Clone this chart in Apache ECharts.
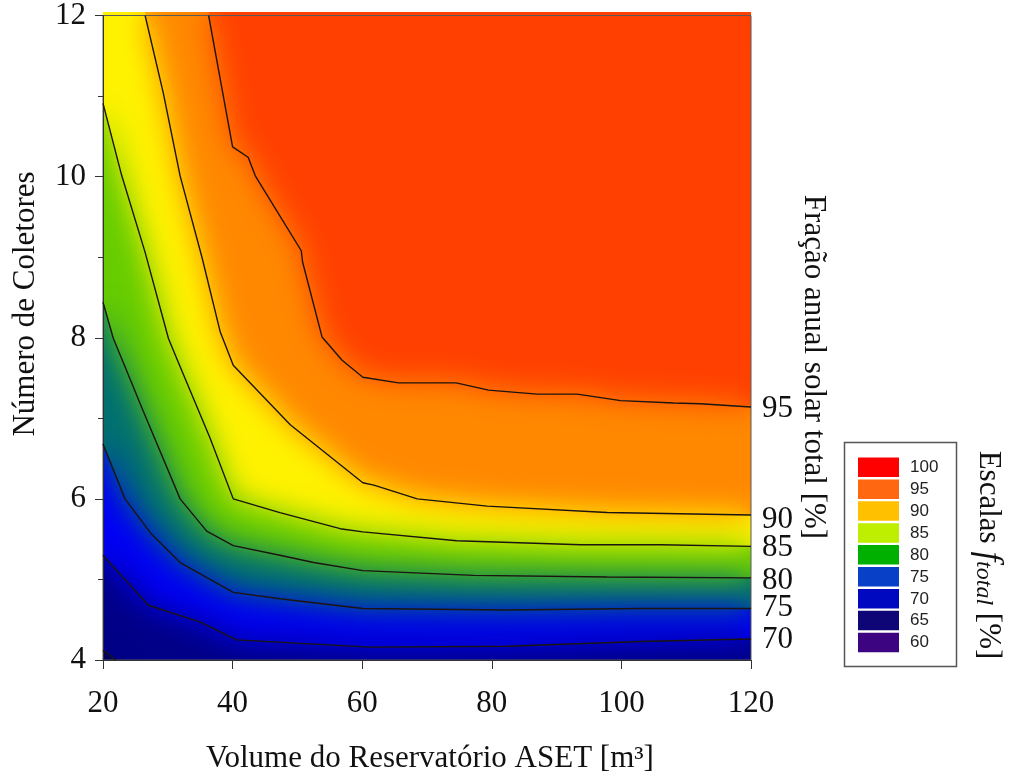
<!DOCTYPE html>
<html>
<head>
<meta charset="utf-8">
<script src="https://cdn.jsdelivr.net/npm/echarts@6/dist/echarts.min.js"></script>
<style>
  html, body { margin: 0; padding: 0; background: #fff; }
  #wrap { position: relative; width: 1010px; height: 780px; overflow: hidden; }
  .layer { position: absolute; left: 0; top: 0; width: 1010px; height: 780px; }
  /* soft copy of the colour bands, clipped to the plot area */
  #soft { position: absolute; left: 103px; top: 12px; width: 648px; height: 648px; overflow: hidden; }
  #softInner { position: absolute; left: -103px; top: -12px; width: 1010px; height: 780px; filter: blur(15px); }
</style>
</head>
<body>
<div id="wrap">
  <div id="fillBase" class="layer"></div>
  <div id="soft"><div id="softInner"></div></div>
  <div id="main" class="layer"></div>
</div>
<script>
// Iso-lines of the total annual solar fraction: [volume m³, number of collectors]
const levels = [65, 70, 75, 80, 85, 90, 95];
const contour65 = [[20, 4.12], [22.0, 4.0]];
const contour70 = [[20, 5.30], [27.0, 4.68], [35.0, 4.47], [40.6, 4.25], [61.2, 4.16], [82.3, 4.17], [102.9, 4.23], [120, 4.26]];
const contour75 = [[20, 6.68], [23.4, 6.00], [27.5, 5.56], [31.9, 5.21], [40.1, 4.84], [47.3, 4.76], [60.1, 4.64], [82.3, 4.62], [102.9, 4.64], [120, 4.64]];
const contour80 = [[20, 8.44], [21.6, 7.99], [23.7, 7.58], [26.2, 7.09], [31.9, 6.00], [36.0, 5.60], [40.1, 5.42], [47.3, 5.30], [52.5, 5.21], [60.1, 5.11], [77.2, 5.05], [97.8, 5.03], [120, 5.02]];
const contour85 = [[20, 10.91], [22.9, 10.01], [26.5, 9.06], [30.1, 7.99], [31.6, 7.70], [36.5, 6.76], [40.1, 6.00], [47.3, 5.83], [56.6, 5.63], [60.1, 5.59], [74.6, 5.48], [93.7, 5.43], [106, 5.43], [120, 5.41]];
const contour90 = [[26.5, 12], [29.3, 11.04], [31.9, 10.01], [35.3, 8.99], [38.1, 8.07], [40.1, 7.66], [48.9, 6.92], [60.1, 6.20], [61.8, 6.17], [68.5, 6.00], [79.3, 5.91], [97.8, 5.83], [120, 5.80]];
const contour95 = [[36.3, 12], [40.0, 10.37], [42.4, 10.24], [43.5, 10.01], [50.6, 9.08], [50.8, 8.94], [53.8, 8.01], [56.9, 7.72], [60.1, 7.51], [65.6, 7.44], [74.5, 7.44], [79.5, 7.35], [87.0, 7.30], [93.2, 7.30], [99.9, 7.22], [108.1, 7.19], [112.2, 7.18], [120, 7.14]];

// Axis ticks
const xTicks = [20, 40, 60, 80, 100, 120];
const yTicks = [4, 6, 8, 10, 12];

// Scale legend entries
const scaleLevels = [100, 95, 90, 85, 80, 75, 70, 65, 60];

const contours = { 65: contour65, 70: contour70, 75: contour75, 80: contour80, 85: contour85, 90: contour90, 95: contour95 };

// Colours
const scaleColors = ['#FE0000', '#FF6810', '#FFC000', '#BEEE00', '#00B000', '#0840C8', '#0008C0', '#0E0676', '#3C0480'];
const fieldBelow65 = '#000050';
const fieldBase = '#000088';          // 65 – 70
const bandColor = {                   // fill above each iso-line
  70: '#0000F4',
  75: '#007070',
  80: '#66CC00',
  85: '#FFF200',
  90: '#FF8800',
  95: '#FF4000'
};
const lineColor = '#1c1410';
const serif = "'Liberation Serif', 'Times New Roman', serif";
const sans = "'Liberation Sans', Arial, sans-serif";

const gridBox = { left: 103, top: 12, width: 648, height: 648 };

function fillOption() {
  const series = [{
    type: 'line', data: contour65, symbol: 'none', silent: true,
    lineStyle: { opacity: 0 },
    areaStyle: { color: fieldBelow65, opacity: 1, origin: 'start' }
  }];
  levels.filter(l => l >= 70).forEach(l => {
    series.push({
      type: 'line', data: contours[l], symbol: 'none', silent: true,
      lineStyle: { opacity: 0 },
      areaStyle: { color: bandColor[l], opacity: 1, origin: 'end' }
    });
  });
  return {
    animation: false,
    grid: Object.assign({ show: true, borderWidth: 0, backgroundColor: fieldBase }, gridBox),
    xAxis: { type: 'value', min: 20, max: 120, show: false },
    yAxis: { type: 'value', min: 4, max: 12, show: false },
    series
  };
}

echarts.init(document.getElementById('fillBase')).setOption(fillOption());
echarts.init(document.getElementById('softInner')).setOption(fillOption());

// Iso-lines, axes, labels and scale legend
const endOffset = { 70: 1, 75: -1, 80: 3, 85: 1, 90: 5, 95: 2 };
const lineSeries = levels.map(l => ({
  type: 'line',
  data: contours[l],
  symbol: 'none',
  silent: true,
  lineStyle: { color: lineColor, width: 1.4 },
  endLabel: l >= 70 ? {
    show: true, formatter: String(l), distance: 11, offset: [0, endOffset[l]],
    fontFamily: serif, fontSize: 31, color: '#111'
  } : { show: false }
}));

const legendGraphics = [{
  type: 'rect', shape: { x: 844.5, y: 442.5, width: 112, height: 224 },
  style: { fill: 'none', stroke: '#555', lineWidth: 1.5 }
}];
scaleLevels.forEach((lv, i) => {
  const top = 457.5 + i * 21.9;
  legendGraphics.push({
    type: 'rect', shape: { x: 858, y: top, width: 41, height: 19.5 },
    style: { fill: scaleColors[i] }
  });
  legendGraphics.push({
    type: 'text', x: 910, y: top + 10,
    style: { text: String(lv), fontFamily: sans, fontSize: 17, fill: '#222', align: 'left', verticalAlign: 'middle' }
  });
});

const titleStyle = { fontFamily: serif, fontSize: 31, fill: '#111', align: 'center', verticalAlign: 'middle' };

const main = echarts.init(document.getElementById('main'));
main.setOption({
  animation: false,
  backgroundColor: 'transparent',
  grid: Object.assign({ show: true, borderColor: '#5a5a5a', borderWidth: 1, backgroundColor: 'transparent' }, gridBox),
  xAxis: {
    type: 'value', min: xTicks[0], max: xTicks[xTicks.length - 1], interval: 20,
    axisLine: { show: true, onZero: false, lineStyle: { color: '#333', width: 1 } },
    axisTick: { show: true, length: 9, lineStyle: { color: '#333', width: 1 } },
    axisLabel: { fontFamily: serif, fontSize: 31, color: '#111', margin: 28 },
    splitLine: { show: false }
  },
  yAxis: {
    type: 'value', min: yTicks[0], max: yTicks[yTicks.length - 1], interval: 2,
    axisLine: { show: true, onZero: false, lineStyle: { color: '#333', width: 1 } },
    axisTick: { show: true, length: 8, lineStyle: { color: '#333', width: 1 } },
    minorTick: { show: true, splitNumber: 2, length: 5, lineStyle: { color: '#333', width: 1 } },
    axisLabel: { fontFamily: serif, fontSize: 31, color: '#111', margin: 17 },
    splitLine: { show: false },
    minorSplitLine: { show: false }
  },
  series: lineSeries,
  graphic: [
    { type: 'text', x: 26, y: 304, rotation: Math.PI / 2, style: Object.assign({ text: 'Número de Coletores' }, titleStyle) },
    { type: 'text', x: 430, y: 759, style: Object.assign({ text: 'Volume do Reservatório ASET [m³]' }, titleStyle) },
    { type: 'text', x: 813, y: 367, rotation: -Math.PI / 2, style: Object.assign({ text: 'Fração anual solar total [%]' }, titleStyle) },
    {
      type: 'text', x: 988, y: 555, rotation: -Math.PI / 2,
      style: {
        text: '{a|Escalas }{f|f}{s|total}{a| [%]}',
        fill: '#111', align: 'center', verticalAlign: 'middle',
        fontFamily: serif, fontSize: 31,
        rich: {
          a: { fontFamily: serif, fontSize: 31, fill: '#111', lineHeight: 40 },
          f: { fontFamily: serif, fontSize: 35, fontStyle: 'italic', fill: '#111', lineHeight: 40 },
          s: { fontFamily: serif, fontSize: 24, fontStyle: 'italic', fill: '#111', lineHeight: 40, padding: [9, 0, 0, 0] }
        }
      }
    }
  ].concat(legendGraphics)
});
</script>
</body>
</html>
